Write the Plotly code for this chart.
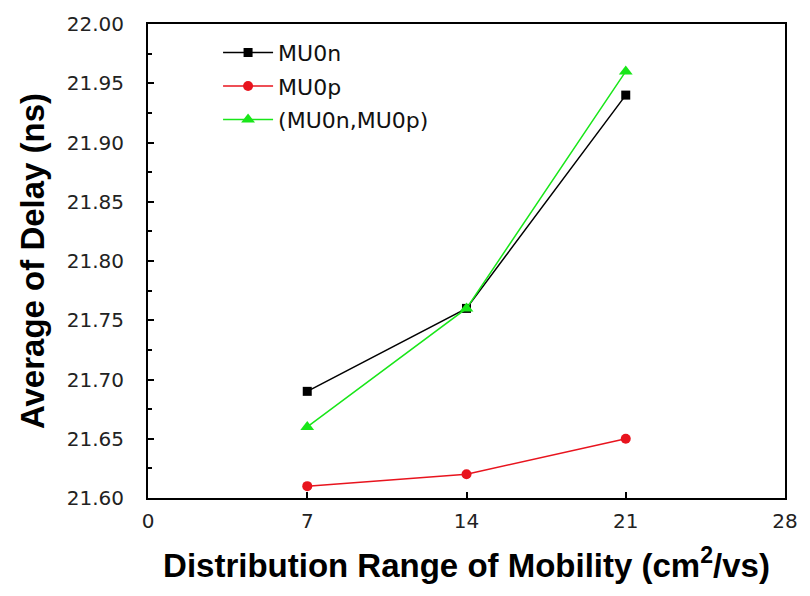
import plotly.graph_objects as go

# Distribution range of mobility (cm^2/vs)
mobility_range = [7, 14, 21]

# Average delay (ns) for each varied parameter
delay_mu0n = [21.69, 21.76, 21.94]
delay_mu0p = [21.61, 21.62, 21.65]
delay_both = [21.66, 21.76, 21.96]

series_names = ["MU0n", "MU0p", "(MU0n,MU0p)"]
x_ticks = [0, 7, 14, 21, 28]
y_ticks = [21.60, 21.65, 21.70, 21.75, 21.80, 21.85, 21.90, 21.95, 22.00]

fig = go.Figure()

styles = [
    (delay_mu0n, "#000000", "square", 9),
    (delay_mu0p, "#e8141e", "circle", 10),
    (delay_both, "#19e619", "triangle-up", 12),
]
for i, (vals, color, symbol, size) in enumerate(styles):
    fig.add_trace(go.Scatter(
        x=mobility_range, y=vals, name=series_names[i],
        mode="lines+markers", legendgroup=str(i),
        line=dict(color=color, width=1.5),
        marker=dict(color=color, symbol=symbol, size=size),
    ))

axis_common = dict(
    showline=True, linecolor="#000000", linewidth=2, mirror=True,
    ticks="inside", tickcolor="#000000", ticklen=6, tickwidth=1.5,
    showgrid=False, zeroline=False,
    tickfont=dict(family="DejaVu Sans, sans-serif", size=20, color="#222222"),
)

fig.update_layout(
    width=810, height=596,
    margin=dict(l=148, r=16, t=18, b=98),
    paper_bgcolor="white", plot_bgcolor="white",
    xaxis=dict(
        range=[0, 28], tickvals=x_ticks, ticktext=[str(v) for v in x_ticks],
        ticklabelstandoff=4,
        title=dict(text="<b>Distribution Range of Mobility (cm<sup>2</sup>/vs)</b>",
                   font=dict(family="Liberation Sans, Arial, sans-serif", size=33, color="#000000"),
                   standoff=22),
        **axis_common,
    ),
    yaxis=dict(
        range=[21.60, 22.00], tickvals=y_ticks, ticktext=[f"{v:.2f}" for v in y_ticks],
        ticklabelstandoff=18,
        minor=dict(dtick=0.025, ticks="inside", ticklen=4, tickcolor="#000000", tickwidth=1.5),
        title=dict(text="<b>Average of Delay (ns)</b>",
                   font=dict(family="Liberation Sans, Arial, sans-serif", size=33, color="#000000"),
                   standoff=12),
        **axis_common,
    ),
    legend=dict(
        x=0.11, y=0.984, xanchor="left", yanchor="top",
        bgcolor="rgba(0,0,0,0)", tracegroupgap=2, itemwidth=50,
        font=dict(family="DejaVu Sans, sans-serif", size=22, color="#111111"),
    ),
    showlegend=True,
)

fig.write_html("out.html")
